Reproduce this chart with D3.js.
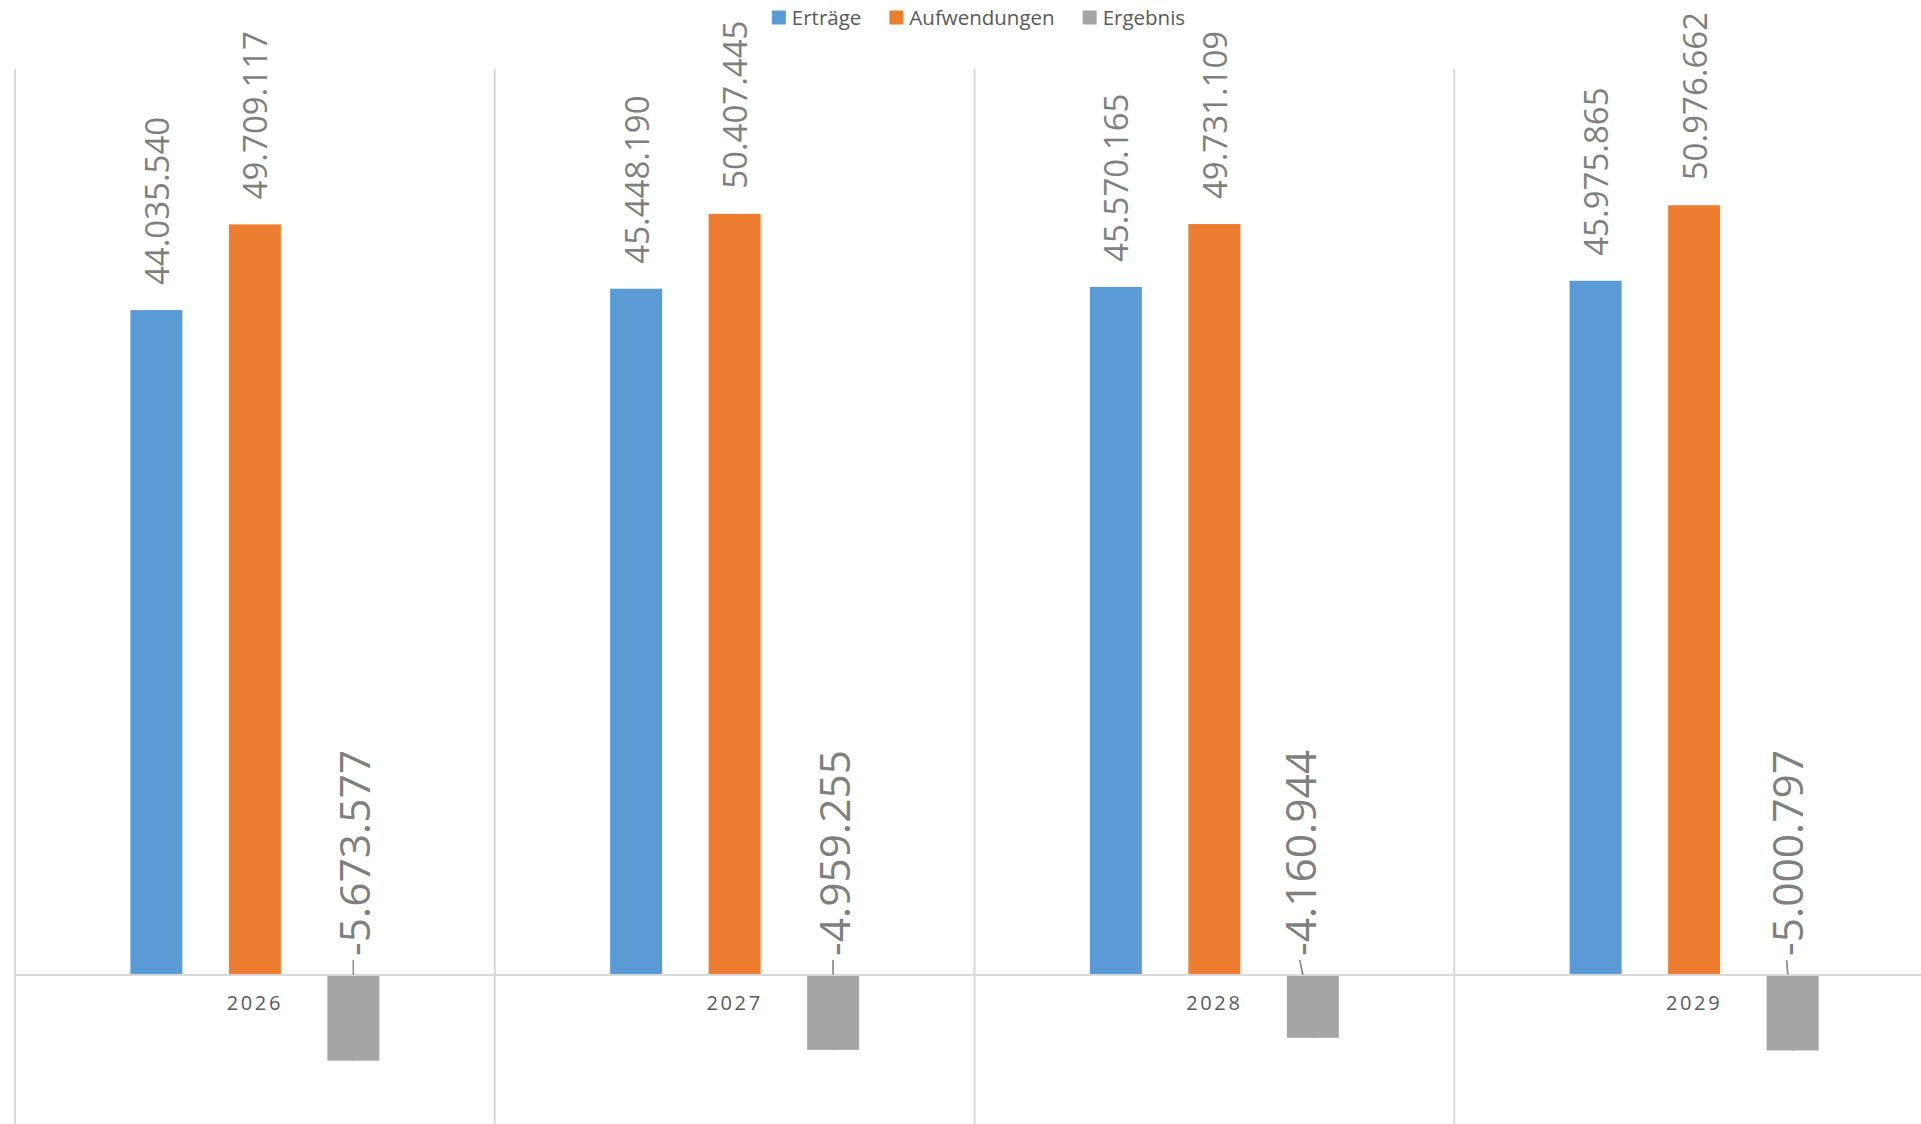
<!DOCTYPE html>
<html>
<head>
<meta charset="utf-8">
<script src="https://cdn.jsdelivr.net/npm/d3@7"></script>
<style>
  html, body { margin: 0; padding: 0; background: #fff; }
  svg { display: block; font-family: "Open Sans", "Noto Sans", sans-serif; }
</style>
</head>
<body>
<svg id="chart" width="1921" height="1124"></svg>
<script>
// ---- data ----
const years = ["2026", "2027", "2028", "2029"];
const seriesNames = ["Erträge", "Aufwendungen", "Ergebnis"];
const ertraege = [44035540, 45448190, 45570165, 45975865];
const aufwendungen = [49709117, 50407445, 49731109, 50976662];
const ergebnis = [-5673577, -4959255, -4160944, -5000797];
const seriesColors = ["#5B9BD5", "#ED7D31", "#A5A5A5"];
// manual nudges of the Ergebnis labels (layout only)
const ergebnisLabelDx = [0, 0, -13, -6];

const seriesValues = [ertraege, aufwendungen, ergebnis];

const W = 1921, H = 1124;
const svg = d3.select("#chart");

const fmt = d3.formatLocale({ decimal: ",", thousands: ".", grouping: [3], currency: ["", " €"], minus: "-" }).format(",d");

const x0 = d3.scaleBand().domain(years).range([15, 1934]).paddingInner(0).paddingOuter(0);
const x1 = d3.scaleBand().domain(seriesNames).range([0, 249]).paddingInner(0.472).paddingOuter(0);
const y = d3.scaleLinear().domain([-10000000, 60000000]).range([1126, 69]);

const grid = "#d9d9d9";

// vertical category separators
const edges = years.map(d => x0(d)).concat([x0(years[years.length - 1]) + x0.bandwidth()]);
svg.append("g").selectAll("line").data(edges).join("line")
  .attr("x1", d => d).attr("x2", d => d)
  .attr("y1", y(60000000)).attr("y2", H)
  .attr("stroke", grid).attr("stroke-width", 2);

const groupOffset = x0.bandwidth() / 2 - 124.5;

// leader lines for Ergebnis labels (under bars)
const lead = svg.append("g");
years.forEach((yr, i) => {
  const cx = x0(yr) + groupOffset + x1("Ergebnis") + x1.bandwidth() / 2;
  lead.append("line")
    .attr("x1", cx + ergebnisLabelDx[i]).attr("y1", y(0) - 15)
    .attr("x2", cx).attr("y2", y(ergebnis[i]))
    .attr("stroke", "#8c8c8c").attr("stroke-width", 1.3);
});

// bars
const bars = svg.append("g");
seriesNames.forEach((s, si) => {
  bars.selectAll("rect.s" + si).data(years).join("rect")
    .attr("class", "s" + si)
    .attr("x", d => x0(d) + groupOffset + x1(s))
    .attr("width", x1.bandwidth())
    .attr("y", (d, i) => y(Math.max(0, seriesValues[si][i])))
    .attr("height", (d, i) => Math.abs(y(seriesValues[si][i]) - y(0)))
    .attr("fill", seriesColors[si]);
});

// baseline
svg.append("line")
  .attr("x1", 15).attr("x2", 1934)
  .attr("y1", y(0)).attr("y2", y(0))
  .attr("stroke", grid).attr("stroke-width", 2);

// leader line stubs visible above baseline
years.forEach((yr, i) => {
  const cx = x0(yr) + groupOffset + x1("Ergebnis") + x1.bandwidth() / 2;
  svg.append("line")
    .attr("x1", cx + ergebnisLabelDx[i]).attr("y1", y(0) - 15)
    .attr("x2", cx + ergebnisLabelDx[i] * 0.75).attr("y2", y(0))
    .attr("stroke", "#8c8c8c").attr("stroke-width", 1.3);
});

// data labels
const labels = svg.append("g").attr("fill", "#7f7f7f");
seriesNames.forEach((s, si) => {
  years.forEach((yr, i) => {
    const v = seriesValues[si][i];
    const cx = x0(yr) + groupOffset + x1(s) + x1.bandwidth() / 2;
    if (v >= 0) {
      const ly = y(v) - 25;
      labels.append("text")
        .attr("transform", `translate(${cx},${ly}) rotate(-90)`)
        .attr("dominant-baseline", "central")
        .attr("font-size", 33)
        .text(fmt(v));
    } else {
      const ly = y(0) - 19;
      labels.append("text")
        .attr("transform", `translate(${cx + ergebnisLabelDx[i]},${ly}) rotate(-90)`)
        .attr("dominant-baseline", "central")
        .attr("font-size", 42.5)
        .text(fmt(v));
    }
  });
});

// category axis labels
svg.append("g").selectAll("text").data(years).join("text")
  .attr("x", d => x0(d) + x0.bandwidth() / 2)
  .attr("y", y(0) + 27)
  .attr("text-anchor", "middle")
  .attr("dominant-baseline", "central")
  .attr("font-size", 20)
  .attr("letter-spacing", 2.6)
  .attr("fill", "#595959")
  .text(d => d);

// legend
const legend = svg.append("g");
const items = seriesNames.map((s, i) => {
  const g = legend.append("g");
  g.append("rect").attr("x", 0).attr("y", 10.5).attr("width", 14).attr("height", 14).attr("fill", seriesColors[i]);
  const t = g.append("text").attr("x", 20).attr("y", 17).attr("dominant-baseline", "central")
    .attr("font-size", 20.5).attr("fill", "#595959").text(s);
  return { g, w: 20 + t.node().getComputedTextLength() };
});
const gap = 28;
const total = d3.sum(items, d => d.w) + gap * (items.length - 1);
let lx = 978.5 - total / 2;
items.forEach(it => { it.g.attr("transform", `translate(${lx},0)`); lx += it.w + gap; });
</script>
</body>
</html>
